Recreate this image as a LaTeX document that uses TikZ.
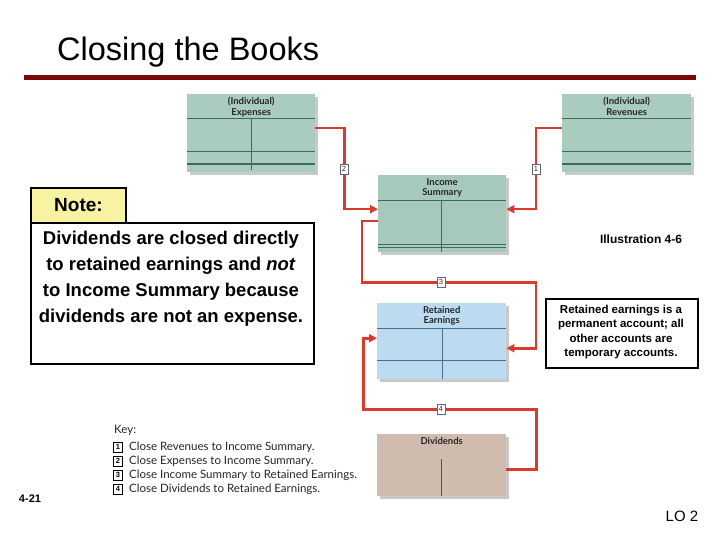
\documentclass[tikz,border=0pt]{standalone}
\usepackage{fontspec}
\setmainfont{Liberation Sans}
\newfontfamily\acctfont{Lato}
\usetikzlibrary{arrows.meta,shadows,calc}
\definecolor{acctgreen}{HTML}{AACCBE}
\definecolor{incgreen}{HTML}{A6C9BB}
\definecolor{acctblue}{HTML}{BCDAF0}
\definecolor{accttan}{HTML}{CFBCAF}
\definecolor{lngreen}{HTML}{3D6B5A}
\definecolor{lnblue}{HTML}{4A6F8F}
\definecolor{lntan}{HTML}{6A4E40}
\definecolor{closered}{HTML}{D83A2E}
\definecolor{rulered}{HTML}{780A0A}
\definecolor{notey}{HTML}{F8F3A2}
\definecolor{shadowgray}{HTML}{C9C9C9}
\tikzset{
  acct/.style={draw=none, anchor=north west, inner sep=0pt,
    drop shadow={shadow xshift=3pt, shadow yshift=-3pt, fill=shadowgray, opacity=1}},
  accttitle/.style={anchor=north, align=center, inner sep=0pt,
    font=\acctfont\bfseries\fontsize{9.5}{10.5}\selectfont, text=black!85},
  closing/.style={draw=closered, line width=2.6pt,
    -{Triangle[length=8pt,width=8pt]}},
  steplabel/.style={draw=black!60, fill=white, line width=0.5pt, inner sep=0.8pt,
    minimum width=8pt, minimum height=10pt, font=\fontsize{7.5}{8}\selectfont, text=black!80},
  keybox/.style={draw=black, line width=1pt, fill=white, inner sep=0pt,
    minimum width=9pt, minimum height=10pt, font=\bfseries\fontsize{7.5}{8}\selectfont},
  keytext/.style={anchor=west, inner sep=0pt, font=\acctfont\fontsize{11.5}{13}\selectfont, text=black!85},
  boxed/.style={draw=black, line width=2pt}
}
\begin{document}
\begin{tikzpicture}[x=1pt,y=-1pt]
\useasboundingbox (0,0) rectangle (720,540);
% title
\node[anchor=west, inner sep=0pt, font=\fontsize{32.5}{36}\selectfont] (title) at (57,52) {Closing the Books};
\draw[rulered, line width=5pt] (24,77.5) -- (696,77.5);

% accounts
\node[acct, fill=acctgreen, minimum width=128pt, minimum height=78pt] (exp) at (187,94) {};
\node[accttitle] (expt) at ([yshift=-3pt]exp.north) {(Individual)\\Expenses};
\begin{scope}[shift={(exp.north west)}]
  \draw[lngreen, line width=1pt] (0,25) -- (128,25);
  \draw[lngreen, line width=1pt] (0,58) -- (128,58);
  \draw[lngreen, line width=1.8pt] (0,70) -- (128,70);
  \draw[lngreen, line width=1pt] (64,25) -- (64,76);
\end{scope}

\node[acct, fill=acctgreen, minimum width=129pt, minimum height=78pt] (rev) at (562,94) {};
\node[accttitle] (revt) at ([yshift=-3pt]rev.north) {(Individual)\\Revenues};
\begin{scope}[shift={(rev.north west)}]
  \draw[lngreen, line width=1pt] (0,25) -- (129,25);
  \draw[lngreen, line width=1pt] (0,58) -- (129,58);
  \draw[lngreen, line width=1.8pt] (0,70) -- (129,70);
\end{scope}

\node[acct, fill=incgreen, minimum width=128pt, minimum height=77pt] (inc) at (378,175) {};
\node[accttitle] (inct) at ([yshift=-3pt]inc.north) {Income\\Summary};
\begin{scope}[shift={(inc.north west)}]
  \draw[lngreen, line width=0.8pt] (0,25) -- (128,25);
  \draw[lngreen, line width=1pt] (0,69) -- (128,69);
  \draw[lngreen, line width=1pt] (0,72) -- (128,72);
  \draw[lngreen, line width=0.8pt] (63,25) -- (63,77);
\end{scope}

\node[acct, fill=acctblue, minimum width=129pt, minimum height=76pt] (ret) at (377,303) {};
\node[accttitle] (rett) at ([yshift=-3pt]ret.north) {Retained\\Earnings};
\begin{scope}[shift={(ret.north west)}]
  \draw[lnblue, line width=0.8pt] (0,25) -- (129,25);
  \draw[lnblue, line width=0.8pt] (0,57) -- (129,57);
  \draw[lnblue, line width=0.8pt] (65,25) -- (65,76);
\end{scope}

\node[acct, fill=accttan, minimum width=129pt, minimum height=62pt] (div) at (377,434) {};
\node[accttitle] (divt) at ([yshift=-3pt]div.north) {Dividends};
\begin{scope}[shift={(div.north west)}]
  \draw[lntan, line width=0.8pt] (64,25) -- (64,62);
\end{scope}

% closing entries
\draw[closing] ([yshift=5pt]exp.east) -- ++(29,0) |- ([yshift=4.5pt]inc.west);
\draw[closing] ([yshift=5pt]rev.west) -- ++(-26,0) |- ([yshift=4.5pt]inc.east);
\draw[closing] ([yshift=-7.5pt]inc.west) -- ++(-16,0) -- ++(0,61) -- ++(174,0) |- ([yshift=-7pt]ret.east);
\draw[closing] ([yshift=-4pt]div.east) -- ++(30,0) -- ++(0,-60) -- ++(-173,0) |- ([yshift=3pt]ret.west);
\node[steplabel] (s2) at (344,169) {2};
\node[steplabel] (s1) at (536,169) {1};
\node[steplabel] (s3) at (441,282) {3};
\node[steplabel] (s4) at (441,409) {4};

% note
\node[boxed, fill=notey, anchor=north west, minimum width=95pt, minimum height=35pt, inner sep=0pt,
  font=\bfseries\fontsize{19}{22}\selectfont] (note) at (30,187) {Note:};
\node[boxed, fill=white, anchor=north west, minimum width=283pt, minimum height=141pt, inner sep=0pt] (notebody) at (30,222) {};
\node[align=center, inner sep=0pt, font=\bfseries\fontsize{18.5}{26}\selectfont] (notetext) at (171,279)
  {Dividends are closed directly\\to retained earnings and \textit{not}\\to Income Summary because\\dividends are not an expense.};

\node[inner sep=0pt, font=\bfseries\fontsize{12}{14}\selectfont] (illus) at (641,239) {Illustration 4-6};
\node[boxed, fill=white, anchor=north west, minimum width=152pt, minimum height=69pt, inner sep=0pt] (perm) at (545,298) {};
\node[align=center, inner sep=0pt, font=\bfseries\fontsize{11.5}{14.5}\selectfont] (permtext) at (621,332)
  {Retained earnings is a\\permanent account; all\\other accounts are\\temporary accounts.};

% key
\node[keytext] (key) at (114,430) {Key:};
\node[keybox] (k1) at (118,447) {1};
\node[keytext] (k1t) at (129,447) {Close Revenues to Income Summary.};
\node[keybox] (k2) at (118,461) {2};
\node[keytext] (k2t) at (129,461) {Close Expenses to Income Summary.};
\node[keybox] (k3) at (118,475) {3};
\node[keytext] (k3t) at (129,475) {Close Income Summary to Retained Earnings.};
\node[keybox] (k4) at (118,489) {4};
\node[keytext] (k4t) at (129,489) {Close Dividends to Retained Earnings.};

% footer
\node[inner sep=0pt, font=\bfseries\fontsize{11}{13}\selectfont] (page) at (30,499) {4-21};
\node[inner sep=0pt, font=\fontsize{15}{17}\selectfont] (lo) at (682,516) {LO 2};
\end{tikzpicture}
\end{document}
